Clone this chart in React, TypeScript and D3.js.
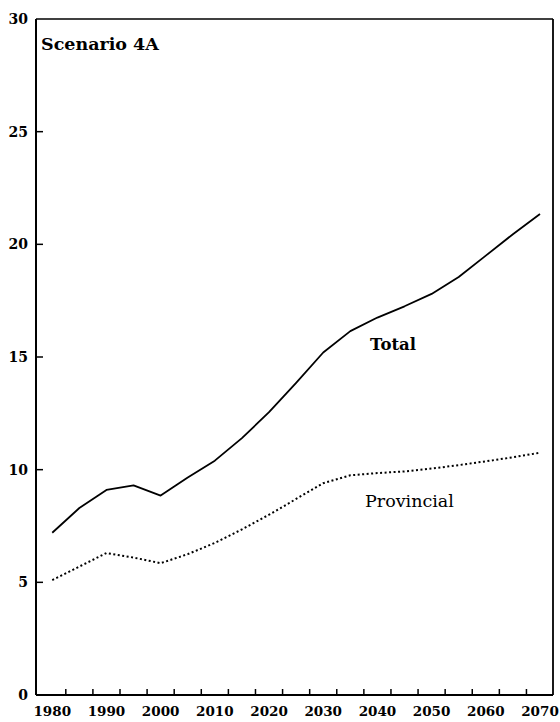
import React from "react";
import * as d3 from "d3";

const years = [1980, 1985, 1990, 1995, 2000, 2005, 2010, 2015, 2020, 2025, 2030, 2035, 2040, 2045, 2050, 2055, 2060, 2065, 2070];
const totalValues = [7.2, 8.3, 9.1, 9.3, 8.85, 9.65, 10.4, 11.4, 12.55, 13.85, 15.2, 16.15, 16.75, 17.25, 17.8, 18.55, 19.5, 20.45, 21.35];
const provincialValues = [5.1, 5.7, 6.3, 6.1, 5.85, 6.25, 6.75, 7.35, 8.0, 8.7, 9.4, 9.75, 9.85, 9.92, 10.05, 10.2, 10.37, 10.55, 10.75];
const xTickLabels = [1980, 1990, 2000, 2010, 2020, 2030, 2040, 2050, 2060, 2070];
const xMinorTicks = [1982.5, 1987.5, 1992.5, 1997.5, 2002.5, 2007.5, 2012.5, 2017.5, 2022.5, 2027.5, 2032.5, 2037.5, 2042.5, 2047.5, 2052.5, 2057.5, 2062.5, 2067.5];
const yTickLabels = [0, 5, 10, 15, 20, 25, 30];
const title = "Scenario 4A";

const FONT = "'DejaVu Serif', 'Liberation Serif', serif";

export default function App() {
  const left = 36, right = 553, top = 19, bottom = 695;
  const x = d3.scaleLinear().domain([1977, 2072.4]).range([left, right]);
  const y = d3.scaleLinear().domain([0, 30]).range([bottom, top]);
  const line = d3
    .line<number>()
    .x((_, i) => x(years[i]))
    .y((d) => y(d))
    .curve(d3.curveLinear);

  return (
    <svg
      width={560}
      height={722}
      style={{ position: "absolute", left: 0, top: 0, background: "#fff" }}
    >
      <rect x={0} y={0} width={560} height={722} fill="#fff" />
      {/* frame */}
      <line x1={left} x2={left} y1={top} y2={bottom} stroke="#000" strokeWidth={2} />
      <line x1={left} x2={right} y1={bottom} y2={bottom} stroke="#000" strokeWidth={1.8} />
      <line x1={left} x2={right} y1={top} y2={top} stroke="#000" strokeWidth={1.5} />
      <line x1={right} x2={right} y1={top} y2={bottom} stroke="#000" strokeWidth={1.8} />

      {/* y ticks */}
      {yTickLabels.map((v) => (
        <g key={v}>
          {v > 0 && v < 30 && (
            <line x1={left} x2={left + 7} y1={y(v)} y2={y(v)} stroke="#000" strokeWidth={1.5} />
          )}
          <text
            x={28}
            y={y(v)}
            dy="0.35em"
            textAnchor="end"
            fontFamily={FONT}
            fontSize={14}
            fontWeight="bold"
            fill="#000"
          >
            {v}
          </text>
        </g>
      ))}

      {/* x ticks */}
      {xMinorTicks.map((t) => (
        <line key={t} x1={x(t)} x2={x(t)} y1={bottom} y2={bottom - 6} stroke="#000" strokeWidth={1.5} />
      ))}
      {xTickLabels.map((t) => (
        <text
          key={t}
          x={x(t)}
          y={716}
          textAnchor="middle"
          fontFamily={FONT}
          fontSize={13.5}
          fontWeight="bold"
          fill="#000"
        >
          {t}
        </text>
      ))}

      {/* series */}
      <path d={line(totalValues) || ""} fill="none" stroke="#000" strokeWidth={1.8} strokeLinejoin="round" />
      <path
        d={line(provincialValues) || ""}
        fill="none"
        stroke="#000"
        strokeWidth={2}
        strokeDasharray="2,2.5"
      />

      {/* labels */}
      <text x={41} y={50} fontFamily={FONT} fontSize={17.5} fontWeight="bold" fill="#000">
        {title}
      </text>
      <text x={370} y={350} fontFamily={FONT} fontSize={16.5} fontWeight="bold" fill="#000">
        Total
      </text>
      <text x={365} y={507} fontFamily={FONT} fontSize={17.5} fill="#000">
        Provincial
      </text>
    </svg>
  );
}
